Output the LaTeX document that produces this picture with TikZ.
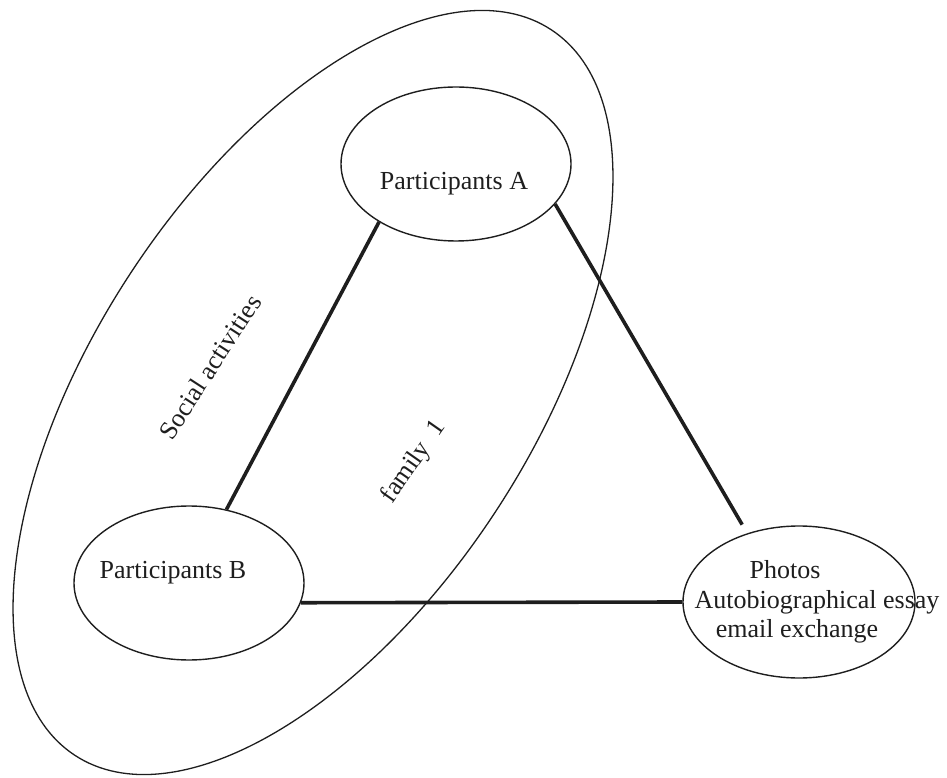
\documentclass[tikz,border=0pt]{standalone}
\usepackage{fontspec}
\setmainfont{Liberation Serif}
\usetikzlibrary{shapes.geometric}
\definecolor{ink}{HTML}{1E1E1E}
\tikzset{
  oval/.style={draw=ink, ellipse, line width=1.4pt, inner sep=0pt, minimum width=230pt, minimum height=154pt},
  bigoval/.style={draw=ink, ellipse, line width=1.3pt, inner sep=0pt, minimum width=868pt, minimum height=436pt},
  link/.style={draw=ink, line width=3.6pt},
  lbl/.style={font=\fontsize{26}{30}\selectfont, text=ink, inner sep=0pt, anchor=base}
}
\begin{document}
\begin{tikzpicture}[x=1pt, y=1pt]
\useasboundingbox (0,0) rectangle (947,777);
% large tilted ellipse (family 1)
\node[bigoval, rotate=56.7] (fam) at (313,384.5) {};
% small ellipses
\node[oval] (A) at (456,613) {};
\node[oval] (B) at (189,194) {};
\node[oval, minimum width=232pt, minimum height=152pt] (C) at (799,175) {};
% texts
\node[lbl] (Atext) at (454,587) {Participants A};
\node[lbl] (Btext) at (173,199) {Participants B};
\node[lbl] (C1) at (785,199) {Photos};
\node[lbl] (C2) at (817,169) {Autobiographical essay};
\node[lbl] (C3) at (797,140) {email exchange};
\node[lbl, anchor=center, rotate=57] (soc) at (210,410) {Social activities};
\node[lbl, anchor=center, rotate=55] (famlbl) at (414,315) {family\ \ 1};
% connectors
\draw[link] (A.217) -- (B.63);
\draw[link, shorten >=10pt] (A.338) -- (C.127);
\draw[link] (B.350) -- (C.180);
\end{tikzpicture}
\end{document}
